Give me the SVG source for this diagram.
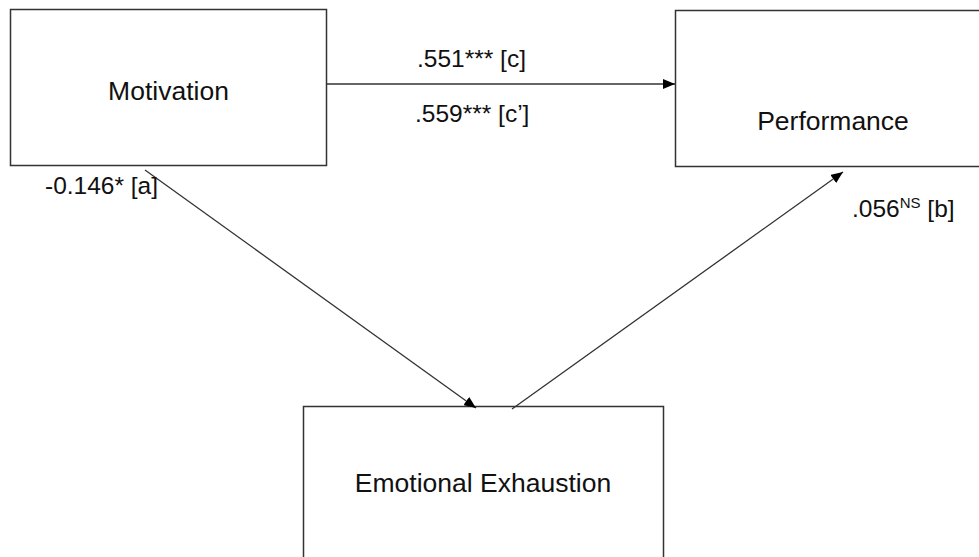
<svg xmlns="http://www.w3.org/2000/svg" width="979" height="557" viewBox="0 0 979 557">
<style>
.box{fill:#fff;stroke:#333;stroke-width:1.5}
.node{font-family:"Liberation Sans",Arial,sans-serif;font-size:26.5px;fill:#111;text-anchor:middle}
.lbl{font-family:"Liberation Sans",Arial,sans-serif;font-size:24.5px;fill:#111}
.conn{stroke:#333;stroke-width:1.3;fill:none;marker-end:url(#ah)}
</style>
<defs>
<marker id="ah" viewBox="0 0 12 10" refX="12" refY="5" markerWidth="12" markerHeight="10" markerUnits="userSpaceOnUse" orient="auto">
<path d="M0,0 L12,5 L0,10 Z" fill="#000"/>
</marker>
</defs>
<rect width="979" height="557" fill="#fff"/>
<g id="motivation">
<rect class="box" x="10.5" y="9.5" width="316" height="156"/>
<text class="node" x="168.5" y="100">Motivation</text>
</g>
<g id="performance">
<rect class="box" x="675.5" y="10.5" width="320" height="156"/>
<text class="node" x="833" y="130">Performance</text>
</g>
<g id="exhaustion">
<rect class="box" x="303.5" y="406.5" width="360" height="170"/>
<text class="node" x="483" y="492">Emotional Exhaustion</text>
</g>
<g id="connectors">
<line class="conn" x1="326.5" y1="84" x2="675" y2="84"/>
<line class="conn" x1="145" y1="170" x2="476" y2="408"/>
<line class="conn" x1="512" y1="409" x2="843" y2="172"/>
</g>
<g id="labels">
<text class="lbl" x="417" y="67">.551*** [c]</text>
<text class="lbl" x="415" y="122">.559*** [c’]</text>
<text class="lbl" x="45" y="194">-0.146* [a]</text>
<text class="lbl" x="852" y="217">.056<tspan font-size="15" dy="-9">NS</tspan><tspan dy="9"> [b]</tspan></text>
</g>
</svg>
